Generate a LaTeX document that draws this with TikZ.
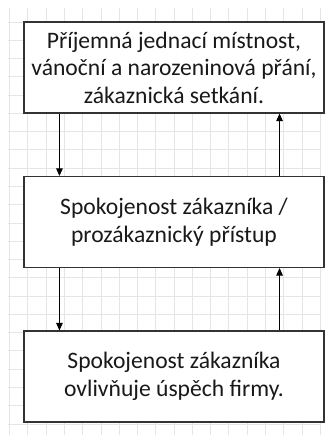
\documentclass[tikz,border=0pt]{standalone}
\usepackage{fontspec}
\setmainfont{Carlito}
\usepackage{tikz}
\usetikzlibrary{arrows.meta}
\tikzset{
  gridline/.style={draw=black!10, line width=0.6pt},
  stagebox/.style={draw=black!80, line width=1.1pt, fill=white, rectangle,
    minimum width=300pt, minimum height=91pt, align=center, inner sep=0pt,
    text=black!90, font=\fontsize{23.6}{27.5}\selectfont},
  flow/.style={-{Triangle[length=7.5pt,width=6.5pt]}, line width=0.9pt, black}
}

\begin{document}
\begin{tikzpicture}[x=1pt, y=-1pt]
\useasboundingbox (0,0) rectangle (329,435);
% background grid
\foreach \i in {0,...,17}
  \draw[gridline] ({9.5+18.27*\i},8) -- ({9.5+18.27*\i},435);
\foreach \j in {1,...,23}
  \draw[gridline] (8,{3.6+18.27*\j}) -- (320,{3.6+18.27*\j});
% boxes
\node[stagebox] (offer) at (174,67.5) {Příjemná jednací místnost,\\vánoční a narozeninová přání,\\zákaznická setkání.};
\node[stagebox] (satisf) at (174,222) {Spokojenost zákazníka /\\prozákaznický přístup};
\node[stagebox] (success) at (174,376.5) {Spokojenost zákazníka\\ovlivňuje úspěch firmy.};
% connectors
\draw[flow] ([xshift=36pt]offer.south west) -- ([xshift=36pt]satisf.north west);
\draw[flow] ([xshift=36pt]satisf.south west) -- ([xshift=36pt]success.north west);
\draw[flow] ([xshift=-45pt]success.north east) -- ([xshift=-45pt]satisf.south east);
\draw[flow] ([xshift=-45pt]satisf.north east) -- ([xshift=-45pt]offer.south east);
\end{tikzpicture}
\end{document}
